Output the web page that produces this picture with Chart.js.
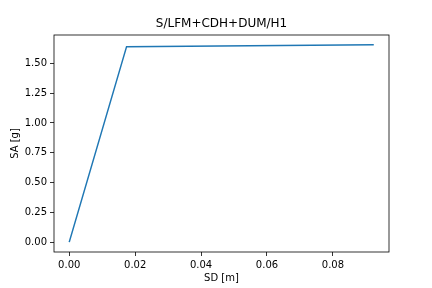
<!DOCTYPE html>
<html>
<head>
<meta charset="utf-8">
<script src="https://cdn.jsdelivr.net/npm/chart.js@4"></script>
<style>
  body { margin: 0; background: #fff; }
  canvas { display: block; }
</style>
</head>
<body>
<canvas id="chart" width="432" height="288"></canvas>
<script>
// pushover curve points
const sd = [0, 0.0174, 0.0924];
const sa = [0, 1.64, 1.655];

const xTicks = [0, 0.02, 0.04, 0.06, 0.08];
const yTicks = [0, 0.25, 0.5, 0.75, 1.0, 1.25, 1.5];

const titleText = 'S/LFM+CDH+DUM/H1';
const xLabel = 'SD [m]';
const yLabel = 'SA [g]';

// matplotlib-style 5% margins
function padRange(vals) {
    const lo = Math.min(...vals);
    const hi = Math.max(...vals);
    const m = (hi - lo) * 0.05;
    return [lo - m, hi + m];
}
const [xMin, xMax] = padRange(sd);
const [yMin, yMax] = padRange(sa);

const points = sd.map((x, i) => ({ x: x, y: sa[i] }));

const font = { family: 'DejaVu Sans', size: 10 };

// box around the plot area, like the four spines
const frame = {
    id: 'frame',
    afterDraw(chart) {
        const { ctx, chartArea: a } = chart;
        ctx.save();
        ctx.strokeStyle = '#000';
        ctx.lineWidth = 0.8;
        ctx.strokeRect(a.left, a.top, a.right - a.left, a.bottom - a.top);
        ctx.restore();
    }
};

const axisGrid = {
    display: true,
    drawOnChartArea: false,
    drawTicks: true,
    tickLength: 4,
    tickColor: '#000',
    tickWidth: 0.8
};

new Chart(document.getElementById('chart'), {
    type: 'scatter',
    data: {
        datasets: [{
            data: points,
            showLine: true,
            borderColor: '#1f77b4',
            borderWidth: 1.5,
            pointRadius: 0,
            fill: false
        }]
    },
    options: {
        responsive: false,
        animation: false,
        devicePixelRatio: 1,
        layout: { padding: { left: 0, right: 43, top: 0, bottom: 0 } },
        plugins: {
            legend: { display: false },
            tooltip: { enabled: false },
            title: {
                display: true,
                text: titleText,
                fullSize: false,
                color: '#000',
                font: { family: 'DejaVu Sans', size: 12, weight: 'normal' },
                padding: { top: 17, bottom: 3.6 }
            }
        },
        scales: {
            x: {
                type: 'linear',
                min: xMin,
                max: xMax,
                grid: axisGrid,
                border: { display: false },
                afterBuildTicks: s => { s.ticks = xTicks.map(v => ({ value: v })); },
                afterFit: s => { s.height = 36; },
                ticks: {
                    color: '#000',
                    font: font,
                    padding: 3,
                    maxRotation: 0,
                    callback: v => v.toFixed(2)
                },
                title: {
                    display: true,
                    text: xLabel,
                    color: '#000',
                    font: font,
                    padding: { top: 0, bottom: 4 }
                }
            },
            y: {
                type: 'linear',
                min: yMin,
                max: yMax,
                grid: axisGrid,
                border: { display: false },
                afterBuildTicks: s => { s.ticks = yTicks.map(v => ({ value: v })); },
                afterFit: s => { s.width = 54; },
                ticks: {
                    color: '#000',
                    font: font,
                    padding: 3,
                    callback: v => v.toFixed(2)
                },
                title: {
                    display: true,
                    text: yLabel,
                    color: '#000',
                    font: font,
                    padding: { top: 9, bottom: 0 }
                }
            }
        }
    },
    plugins: [frame]
});
</script>
</body>
</html>
